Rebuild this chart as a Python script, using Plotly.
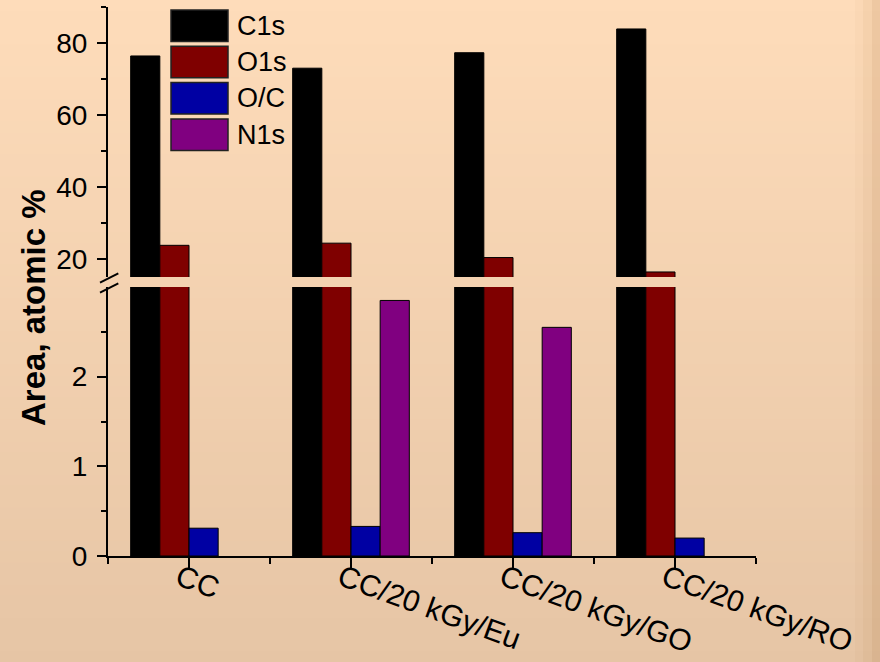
import plotly.graph_objects as go

# ---------------- data ----------------
categories = ["CC", "CC/20 kGy/Eu", "CC/20 kGy/GO", "CC/20 kGy/RO"]
series_names = ["C1s", "O1s", "O/C", "N1s"]
c1s = [76.4, 73.0, 77.3, 83.9]
o1s = [23.8, 24.4, 20.4, 16.4]
o_c = [0.31, 0.33, 0.26, 0.20]
n1s = [None, 2.85, 2.55, None]
series_values = [c1s, o1s, o_c, n1s]
series_colors = ["#000000", "#7F0000", "#0000A3", "#800080"]

lower_ticks = [0, 1, 2]
upper_ticks = [20, 40, 60, 80]

# ---------------- layout geometry ----------------
W, H = 880, 662
L, R, T, B = 108, 124, 7, 106
PW, PH = W - L - R, H - T - B
FONT = "Liberation Sans, Arial, sans-serif"


def px_x(px):
    return (px - L) / PW


def px_y(py):
    return (H - B - py) / PH


lower_dom = [0, px_y(287)]
upper_dom = [px_y(277), 1]

n = len(series_names)
bar_w = 0.18
x_pos = list(range(len(categories)))

fig = go.Figure()
for i, (name, vals, col) in enumerate(zip(series_names, series_values, series_colors)):
    for ya in ["y", "y2"]:
        fig.add_trace(go.Bar(
            x=x_pos, y=vals, name=name, yaxis=ya, xaxis="x",
            width=bar_w, offset=-bar_w * n / 2 + i * bar_w,
            marker=dict(color=col, line=dict(color="#000000", width=1)),
            showlegend=False, hoverinfo="x+y+name",
        ))

# ---------------- background gradient ----------------
shapes = []
top_c = (254, 220, 186)
bot_c = (230, 197, 165)
nb = 60
y_top = px_y(0)
y_bot = px_y(H)
ov = 0.004
for k in range(nb):
    f = (k + 0.5) / nb
    c = tuple(round(top_c[j] + (bot_c[j] - top_c[j]) * f) for j in range(3))
    ya_ = y_top + (y_bot - y_top) * k / nb
    yb_ = y_top + (y_bot - y_top) * (k + 1) / nb
    shapes.append(dict(type="rect", xref="paper", yref="paper",
                       x0=px_x(-2), x1=px_x(W + 2), y0=yb_ - (ov if k < nb - 1 else 0.01),
                       y1=ya_ + (0.01 if k == 0 else 0),
                       fillcolor="rgb(%d,%d,%d)" % c, line=dict(width=0), layer="below"))
# darker right edge strips
for xs, a in [(855, 0.03), (863, 0.05), (872, 0.08)]:
    shapes.append(dict(type="rect", xref="paper", yref="paper",
                       x0=px_x(xs), x1=px_x(W + 2), y0=y_bot - 0.01, y1=y_top + 0.01,
                       fillcolor="rgba(150,90,40,%.2f)" % a, line=dict(width=0), layer="below"))

# axis break marks
for (x0, y0, x1, y1) in [(100, 282.7, 118.3, 273.3), (100, 292.7, 118.3, 283.3)]:
    shapes.append(dict(type="line", xref="paper", yref="paper",
                       x0=px_x(x0), y0=px_y(y0), x1=px_x(x1), y1=px_y(y1),
                       line=dict(color="#000000", width=2)))

# custom legend
annotations = []
sw_x0, sw_x1 = 171, 228
sw_top, sw_h, sw_step = 10, 31.5, 36.3
for i, (name, col) in enumerate(zip(series_names, series_colors)):
    t = sw_top + i * sw_step
    shapes.append(dict(type="rect", xref="paper", yref="paper",
                       x0=px_x(sw_x0), x1=px_x(sw_x1), y0=px_y(t + sw_h), y1=px_y(t),
                       fillcolor=col, line=dict(color="#222222", width=1.5)))
    annotations.append(dict(xref="paper", yref="paper", x=px_x(235), y=px_y(t + sw_h / 2),
                            text=name, showarrow=False, xanchor="left", yanchor="middle",
                            font=dict(family=FONT, size=27, color="#000000")))

annotations.append(dict(xref="paper", yref="paper", x=px_x(33), y=px_y(308),
                        text="<b>Area, atomic %</b>", showarrow=False, textangle=-90,
                        xanchor="center", yanchor="middle",
                        font=dict(family=FONT, size=33, color="#000000")))

axis_common = dict(showline=True, linecolor="#000000", linewidth=2, showgrid=False,
                   zeroline=False, ticks="outside", tickcolor="#000000", tickwidth=2,
                   automargin=False,
                   tickfont=dict(family=FONT, size=28, color="#000000"))

fig.update_layout(
    width=W, height=H,
    margin=dict(l=L, r=R, t=T, b=B, pad=0, autoexpand=False),
    paper_bgcolor="rgba(0,0,0,0)", plot_bgcolor="rgba(0,0,0,0)",
    barmode="overlay",
    showlegend=False,
    shapes=shapes, annotations=annotations,
    xaxis=dict(axis_common, range=[-0.5, 3.5], tickvals=x_pos, ticktext=categories,
               tickangle=20, ticklen=10, anchor="y", ticklabelstandoff=-19,
               ticklabelshift=-10, tickfont=dict(family=FONT, size=30, color="#000000"),
               minor=dict(tickvals=[-0.5, 0.5, 1.5, 2.5, 3.5], ticklen=6, tickwidth=2,
                          tickcolor="#000000", ticks="outside")),
    yaxis=dict(axis_common, domain=lower_dom, range=[0, 3], tickvals=lower_ticks,
               ticklen=9, anchor="x", ticklabelstandoff=4,
               minor=dict(tickvals=[0.5, 1.5, 2.5], ticklen=5, tickwidth=2,
                          tickcolor="#000000", ticks="outside")),
    yaxis2=dict(axis_common, domain=upper_dom, range=[15, 90], tickvals=upper_ticks,
                ticklen=9, anchor="x", ticklabelstandoff=4,
                minor=dict(tickvals=[30, 50, 70, 90], ticklen=5, tickwidth=2,
                           tickcolor="#000000", ticks="outside")),
)

fig.write_html(
    "out.html",
    config={"displayModeBar": False},
    post_script="document.body.style.margin='0px';document.body.style.padding='0px';"
                "document.body.style.background='rgb(242,208,176)';",
)
